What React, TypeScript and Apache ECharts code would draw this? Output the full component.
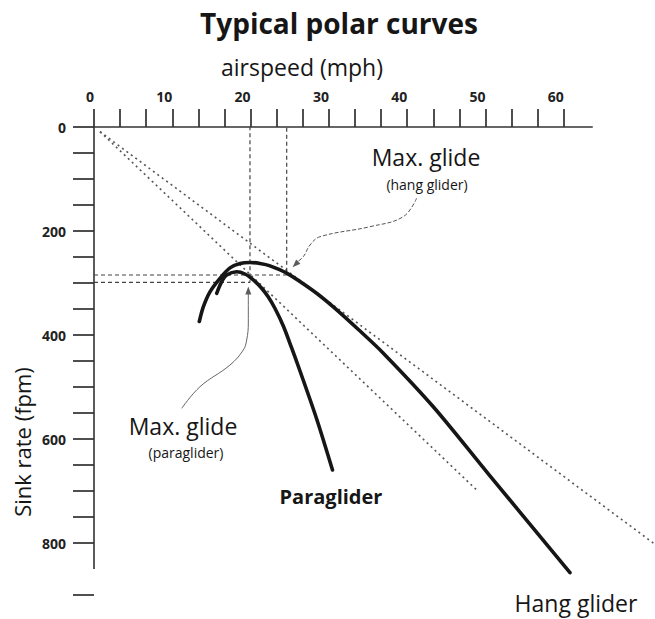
import React, { useEffect, useRef } from 'react';
import * as echarts from 'echarts';

// Axis ticks and labels
const xTickValues = [0, 3.333, 6.667, 10, 13.333, 16.667, 20, 23.333, 26.667, 30, 33.333, 36.667, 40, 43.333, 46.667, 50, 53.333, 56.667, 60];
const xLabelValues = [0, 10, 20, 30, 40, 50, 60];
const yTickValues = [0, 50, 100, 150, 200, 250, 300, 350, 400, 450, 500, 550, 600, 650, 700, 750, 800, 900];
const yLabelValues = [0, 200, 400, 600, 800];

// Polar curves: [airspeed mph, sink rate fpm]
const hangGlider = [
  [13.45, 374], [13.96, 346], [14.81, 317], [16.09, 291], [17.37, 271], [18.65, 262.5],
  [19.92, 260.5], [21.2, 262.5], [22.48, 267], [24.61, 281], [28.0, 315], [30.56, 346],
  [33.8, 390], [36.95, 435], [43.33, 538], [50.36, 667], [60.79, 857],
];
const paraglider = [
  [15.67, 320], [16.31, 297.5], [16.95, 284.6], [18.22, 278.3], [19.28, 282.7], [20.34, 294.2],
  [21.33, 308.7], [22.22, 326], [23.12, 349], [24.18, 382.7], [25.22, 424], [26.31, 469.2],
  [28.44, 561.5], [30.46, 659.6],
];

// Max-glide tangent lines from origin
const hangGliderGlideLine = [[0.77, 9], [71.7, 803]];
const paragliderGlideLine = [[0.77, 9], [49.08, 701]];

// Max-glide drop lines
const hangGliderMaxGlide = [[0, 284.6], [24.61, 284.6], [24.61, 0]];
const paragliderMaxGlide = [[0, 298.7], [19.92, 298.7], [19.92, 0]];

// Annotation pointers
const hangGliderPointer = [
  [41.2, 137.1], [39.5, 172.5], [35.25, 191.7], [28.86, 211.0], [27.59, 226.9], [26.73, 249.4], [25.93, 259.6],
];
const paragliderPointer = [
  [11.2, 541], [13.54, 499.4], [17.37, 457.7], [19.07, 428.8], [19.5, 409.6], [19.71, 377], [19.71, 345.6], [19.71, 317.3],
];
const arrowHeads = [
  { value: [25.73, 264.4], symbolRotate: 135 },
  { value: [19.71, 314.4], symbolRotate: 0 },
];

// axis line extents
const xAxisLine = [[0, 0], [63.7, 0]];
const yAxisLine = [[0, 0], [0, 850]];

const FONT = 'Open Sans';
const INK = '#161616';

function txt(text: string, x: number, y: number, size: number, weight: string | number = 'normal', rotation = 0) {
  return {
    type: 'text',
    x,
    y,
    rotation,
    silent: true,
    style: {
      text,
      fontSize: size,
      fontFamily: FONT,
      fontWeight: weight,
      fill: INK,
      align: 'center',
      verticalAlign: 'middle',
      textAlign: 'center',
      textVerticalAlign: 'middle',
    },
  };
}

export default function App() {
  const ref = useRef<HTMLDivElement>(null);
  useEffect(() => {
    document.body.style.margin = '0';
    const chart = echarts.init(ref.current!, null, { renderer: 'svg' });
    const dotted = { color: '#555', width: 1.6, type: [2, 3.5] };
    const dashed = { color: '#444', width: 1.2, type: [4, 3] };
    const axisStyle = { color: '#333', width: 1.6 };
    chart.setOption({
      animation: false,
      backgroundColor: '#fff',
      grid: { left: 94, right: 0, top: 127, bottom: 24, containLabel: false },
      xAxis: {
        type: 'value',
        position: 'top',
        min: 0,
        max: 71.65,
        splitLine: { show: false },
        axisLine: { show: false },
        axisTick: { show: true, length: 18, inside: false, customValues: xTickValues, lineStyle: { color: '#222', width: 1.6 } },
        axisLabel: {
          show: true,
          customValues: xLabelValues,
          align: 'right',
          margin: 24,
          fontSize: 14,
          fontWeight: 'bold',
          fontFamily: FONT,
          color: '#222',
        },
      },
      yAxis: {
        type: 'value',
        inverse: true,
        min: 0,
        max: 900,
        splitLine: { show: false },
        axisLine: { show: false },
        axisTick: { show: true, length: 21, inside: false, customValues: yTickValues, lineStyle: { color: '#222', width: 1.6 } },
        axisLabel: {
          show: true,
          customValues: yLabelValues,
          margin: 28,
          fontSize: 14,
          fontWeight: 'bold',
          fontFamily: FONT,
          color: '#222',
        },
      },
      series: [
        { name: 'xAxisLine', type: 'line', data: xAxisLine, symbol: 'none', clip: false, silent: true, lineStyle: axisStyle, z: 1 },
        { name: 'yAxisLine', type: 'line', data: yAxisLine, symbol: 'none', clip: false, silent: true, lineStyle: axisStyle, z: 1 },
        { name: 'hgGlide', type: 'line', data: hangGliderGlideLine, symbol: 'none', clip: false, silent: true, lineStyle: dotted },
        { name: 'pgGlide', type: 'line', data: paragliderGlideLine, symbol: 'none', clip: false, silent: true, lineStyle: dotted },
        { name: 'hgMax', type: 'line', data: hangGliderMaxGlide, symbol: 'none', clip: false, silent: true, lineStyle: dashed },
        { name: 'pgMax', type: 'line', data: paragliderMaxGlide, symbol: 'none', clip: false, silent: true, lineStyle: dashed },
        {
          name: 'hgPointer', type: 'line', data: hangGliderPointer, symbol: 'none', smooth: 0.4, silent: true,
          lineStyle: { color: '#555', width: 1, type: [4, 2] },
        },
        {
          name: 'pgPointer', type: 'line', data: paragliderPointer, symbol: 'none', smooth: 0.4, silent: true,
          lineStyle: { color: '#666', width: 1 },
        },
        {
          name: 'arrows', type: 'scatter', data: arrowHeads, symbol: 'triangle', symbolSize: [6, 8], silent: true,
          itemStyle: { color: '#333' },
        },
        {
          name: 'Hang glider', type: 'line', data: hangGlider, symbol: 'none', smooth: 0.3, silent: true,
          lineStyle: { color: INK, width: 3.6, cap: 'round' }, z: 5,
        },
        {
          name: 'Paraglider', type: 'line', data: paraglider, symbol: 'none', smooth: 0.3, silent: true,
          lineStyle: { color: INK, width: 3.6, cap: 'round' }, z: 5,
        },
      ],
      graphic: [
        txt('Typical polar curves', 339, 23, 28, 'bold'),
        txt('airspeed (mph)', 302, 67, 23),
        txt('Sink rate (fpm)', 22, 442, 22, 'normal', Math.PI / 2),
        txt('Max. glide', 426, 157, 23),
        txt('(hang glider)', 427, 184, 14),
        txt('Max. glide', 183, 426, 23),
        txt('(paraglider)', 186, 452, 14),
        txt('Paraglider', 331, 496, 20, 'bold'),
        txt('Hang glider', 576, 603, 23),
      ],
    });
    return () => chart.dispose();
  }, []);
  return <div ref={ref} style={{ position: 'fixed', left: 0, top: 0, width: 655, height: 619, background: '#fff' }} />;
}
